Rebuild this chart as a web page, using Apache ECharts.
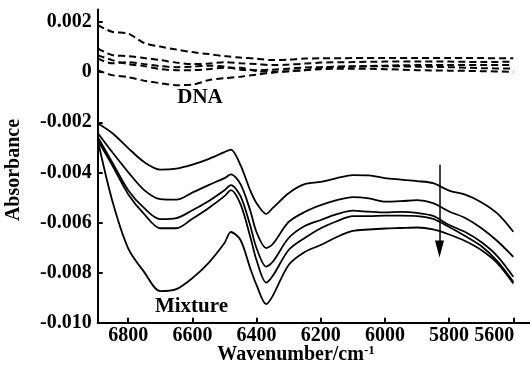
<!DOCTYPE html>
<html><head><meta charset="utf-8">
<script src="https://cdn.jsdelivr.net/npm/echarts@6/dist/echarts.min.js"></script>
<style>html,body{margin:0;padding:0;background:#fff}#c{width:530px;height:366px}</style>
</head><body><div id="c"></div>
<script>
// Wavenumber grid (cm-1) for DNA spectra (dashed)
const wnDNA = [6895, 6850, 6800, 6750, 6700, 6650, 6600, 6550, 6500, 6450, 6400, 6350, 6300, 6250, 6200, 6100, 6000, 5900, 5800, 5700, 5600];
const dnaA = [0.00188, 0.00161, 0.00154, 0.00116, 0.00102, 0.00090, 0.00080, 0.00072, 0.00064, 0.00058, 0.00054, 0.00048, 0.00050, 0.00054, 0.00055, 0.00056, 0.00056, 0.00056, 0.00056, 0.00056, 0.00055];
const dnaB = [0.00095, 0.00068, 0.00064, 0.00056, 0.00048, 0.00038, 0.00032, 0.00034, 0.00040, 0.00035, 0.00032, 0.00028, 0.00030, 0.00034, 0.00038, 0.00040, 0.00042, 0.00042, 0.00042, 0.00040, 0.00042];
const dnaC = [0.00068, 0.00048, 0.00032, 0.00024, 0.00012, 0.00008, 0.00008, 0.00012, 0.00018, 0.00018, 0.00004, 0.00002, 0.00004, 0.00008, 0.00016, 0.00022, 0.00026, 0.00028, 0.00028, 0.00028, 0.00028];
const dnaD = [0.00055, 0.00035, 0.00040, 0.00032, 0.00024, 0.00020, 0.00022, 0.00026, 0.00022, 0.00010, 0.00008, 0.00010, 0.00014, 0.00018, 0.00020, 0.00024, 0.00024, 0.00022, 0.00020, 0.00016, 0.00014];
const dnaE = [0.00008, -0.00012, -0.00020, -0.00034, -0.00044, -0.00052, -0.00050, -0.00032, -0.00024, -0.00018, -0.00010, -0.00002, 0.00004, 0.00008, 0.00012, 0.00014, 0.00012, 0.00008, 0.00006, 0.00004, 0.00001];

// Wavenumber grid (cm-1) for mixture spectra (solid)
const wnMix = [6895, 6850, 6800, 6750, 6700, 6650, 6600, 6550, 6500, 6480, 6450, 6420, 6400, 6370, 6350, 6300, 6250, 6200, 6150, 6100, 6050, 6000, 5950, 5900, 5850, 5800, 5750, 5700, 5650, 5600];
const mix1 = [-0.00204, -0.00243, -0.00303, -0.00359, -0.00389, -0.00385, -0.00369, -0.00347, -0.00319, -0.00309, -0.00371, -0.00471, -0.00523, -0.00566, -0.00543, -0.00483, -0.00447, -0.00438, -0.00423, -0.00411, -0.00412, -0.00423, -0.00429, -0.00435, -0.00443, -0.00473, -0.00489, -0.00519, -0.00564, -0.00637];
const mix2 = [-0.00243, -0.00319, -0.00399, -0.00471, -0.00507, -0.00509, -0.00481, -0.00451, -0.00423, -0.00408, -0.00447, -0.00551, -0.00639, -0.00702, -0.00687, -0.00598, -0.00558, -0.00531, -0.00511, -0.00499, -0.00504, -0.00517, -0.00515, -0.00511, -0.00523, -0.00556, -0.00582, -0.00622, -0.00674, -0.00737];
const mix3 = [-0.00259, -0.00359, -0.00471, -0.00543, -0.00587, -0.00583, -0.00551, -0.00515, -0.00471, -0.00451, -0.00495, -0.00611, -0.00703, -0.00776, -0.00758, -0.00662, -0.00614, -0.00590, -0.00567, -0.00553, -0.00557, -0.00560, -0.00558, -0.00562, -0.00574, -0.00610, -0.00638, -0.00678, -0.00734, -0.00817];
const mix4 = [-0.00271, -0.00371, -0.00487, -0.00567, -0.00623, -0.00623, -0.00585, -0.00543, -0.00495, -0.00471, -0.00527, -0.00655, -0.00751, -0.00840, -0.00814, -0.00710, -0.00662, -0.00623, -0.00595, -0.00575, -0.00575, -0.00573, -0.00573, -0.00575, -0.00586, -0.00618, -0.00654, -0.00694, -0.00754, -0.00837];
const mix5 = [-0.00271, -0.00511, -0.00703, -0.00798, -0.00874, -0.00866, -0.00822, -0.00762, -0.00682, -0.00638, -0.00670, -0.00782, -0.00850, -0.00926, -0.00894, -0.00770, -0.00718, -0.00690, -0.00658, -0.00634, -0.00628, -0.00624, -0.00622, -0.00620, -0.00628, -0.00648, -0.00674, -0.00710, -0.00762, -0.00843];

const xTicks = [6800, 6600, 6400, 6200, 6000, 5800, 5600];
const yTicks = [-0.010, -0.008, -0.006, -0.004, -0.002, 0, 0.002];
const arrowFrom = [5830, -0.0037];
const arrowTo = [5830, -0.00706];

const FONT = "'Liberation Serif', 'Times New Roman', serif";
const chart = echarts.init(document.getElementById('c'), null, {renderer: 'canvas'});

function pairs(xs, ys) { return xs.map((x, i) => [x, ys[i]]); }

const series = [];
[dnaA, dnaB, dnaC, dnaD, dnaE].forEach(d => series.push({
  type: 'line', data: pairs(wnDNA, d), showSymbol: false, smooth: 0.3,
  lineStyle: {color: '#000', width: 2, type: [7, 4]}, silent: true
}));
[mix1, mix2, mix3, mix4, mix5].forEach((d, i) => series.push({
  type: 'line', data: pairs(wnMix, d), showSymbol: false, smooth: 0.3,
  lineStyle: {color: '#000', width: 1.8}, silent: true,
  markLine: i === 0 ? {
    silent: true, animation: false,
    symbol: ['none', 'triangle'], symbolSize: 12,
    lineStyle: {color: '#000', width: 1.5, type: 'solid'},
    itemStyle: {color: '#000'},
    label: {show: false},
    data: [[{coord: arrowFrom, symbol: 'none'}, {coord: arrowTo, symbol: 'triangle', symbolSize: [9, 17], itemStyle: {color: '#000'}}]]
  } : undefined
}));

chart.setOption({
  animation: false,
  backgroundColor: '#fff',
  grid: {left: 97.7, right: 0, top: 9.5, bottom: 43.3},
  xAxis: {
    type: 'value', inverse: true, min: 5548, max: 6895,
    axisLine: {onZero: false, lineStyle: {color: '#000', width: 2}},
    axisTick: {inside: true, length: 5, lineStyle: {color: '#000', width: 2}, customValues: xTicks},
    axisLabel: {customValues: xTicks, color: '#000', fontFamily: FONT, fontWeight: 'bold', fontSize: 20, margin: 3,
      formatter: v => v === 5600 ? '{r|5600}' : String(v),
      rich: {r: {fontFamily: FONT, fontWeight: 'bold', fontSize: 20, color: '#000', padding: [0, 38, 0, 0]}}},
    splitLine: {show: false}
  },
  yAxis: {
    type: 'value', min: -0.010, max: 0.0025,
    axisLine: {onZero: false, lineStyle: {color: '#000', width: 2}},
    axisTick: {inside: true, length: 5, lineStyle: {color: '#000', width: 2}, customValues: yTicks},
    axisLabel: {customValues: yTicks, color: '#000', fontFamily: FONT, fontWeight: 'bold', fontSize: 20, margin: 6,
      formatter: v => Math.abs(v) < 1e-9 ? '0' : v.toFixed(3)},
    splitLine: {show: false}
  },
  graphic: [
    {type: 'text', x: 14, y: 170, rotation: Math.PI / 2,
      style: {text: 'Absorbance', fill: '#000', font: "bold 20px " + FONT, textAlign: 'center', textVerticalAlign: 'middle'}},
    {type: 'text', x: 296, y: 355,
      style: {text: '{a|Wavenumber/cm}{s|-1}', textAlign: 'center', textVerticalAlign: 'middle',
        rich: {a: {font: "bold 20px " + FONT, fill: '#000'}, s: {font: "bold 13px " + FONT, fill: '#000', padding: [0, 0, 8, 0]}}}},
    {type: 'text', x: 200, y: 98,
      style: {text: 'DNA', fill: '#000', font: "bold 21px " + FONT, textAlign: 'center', textVerticalAlign: 'middle'}},
    {type: 'text', x: 191.5, y: 306.5,
      style: {text: 'Mixture', fill: '#000', font: "bold 21px " + FONT, textAlign: 'center', textVerticalAlign: 'middle'}}
  ],
  series: series
});
</script>
</body></html>
